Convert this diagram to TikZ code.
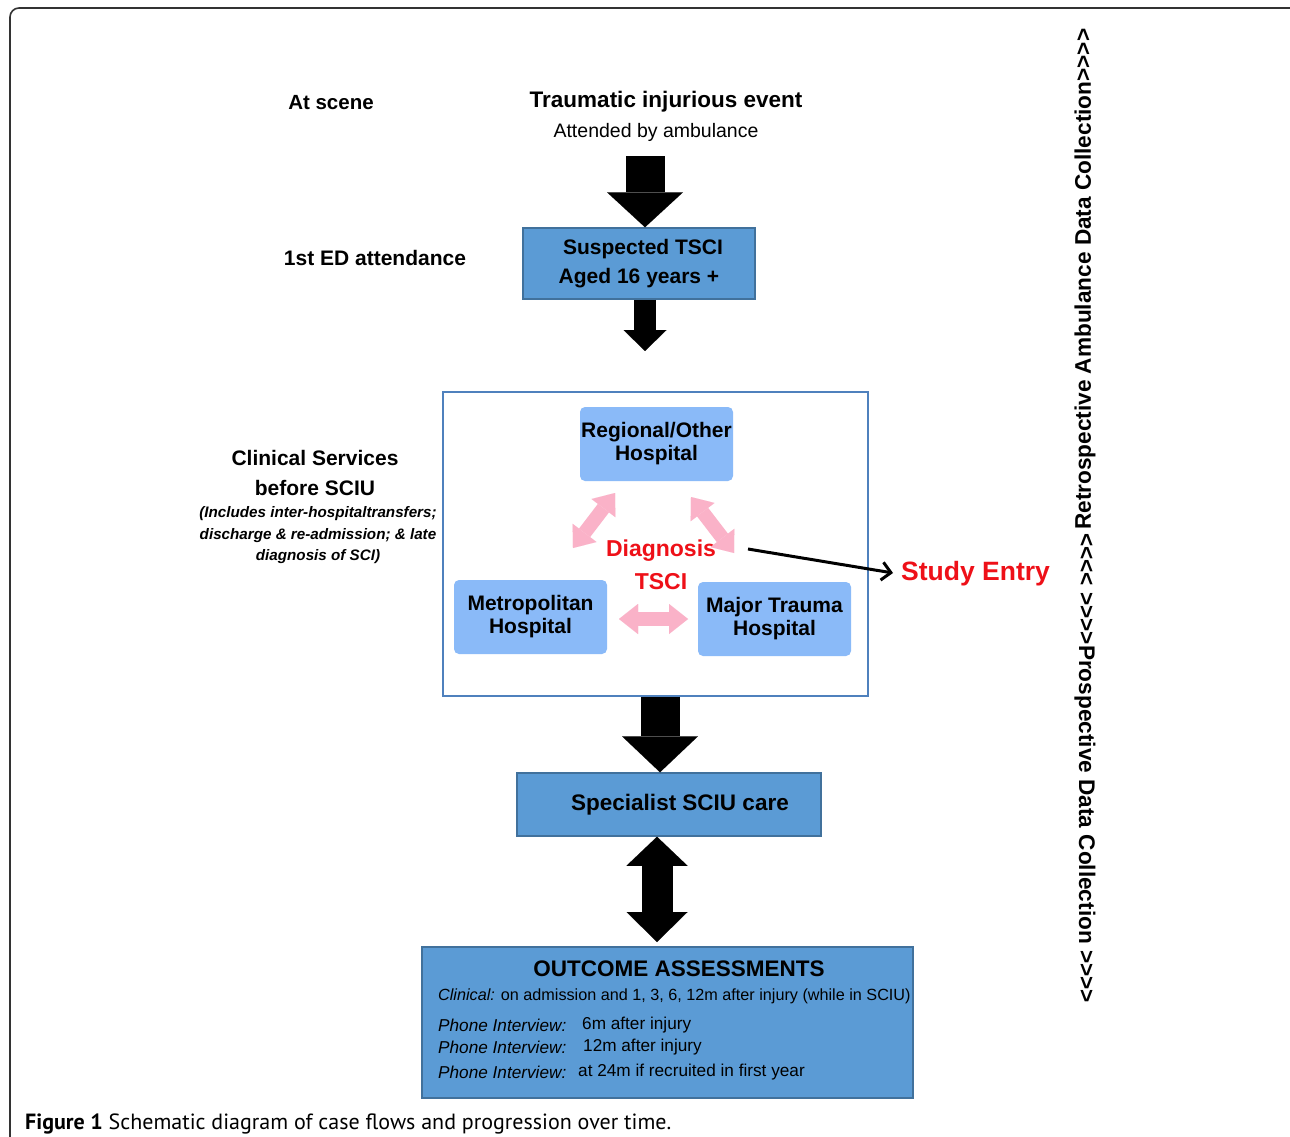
\documentclass[tikz,border=0pt]{standalone}
\usepackage{fontspec}
\setmainfont{Liberation Sans}
\newfontfamily\capfont{PT Sans}
\usetikzlibrary{arrows.meta,calc}
\definecolor{boxblue}{RGB}{91,155,213}
\definecolor{boxedge}{RGB}{65,113,156}
\definecolor{hospblue}{RGB}{138,186,248}
\definecolor{frameblue}{RGB}{79,129,189}
\definecolor{pinkarr}{RGB}{250,178,200}
\definecolor{redtxt}{RGB}{238,16,24}
\newcommand\myfs[2]{\fontsize{#1}{#2}\selectfont}
\newcommand\gtfour{>{}>{}>{}>}
\newcommand\ltfour{<{}<{}<{}<}
\tikzset{
  bluebox/.style={draw=boxedge, line width=1.5pt, fill=boxblue, inner sep=0pt, align=center},
  hosp/.style={fill=hospblue, rounded corners=5pt, minimum width=153pt, minimum height=74pt, inner sep=0pt, align=center, font=\myfs{21}{23}\bfseries},
  lbl/.style={inner sep=0pt, align=center},
  bigarrow/.style={line width=#1, draw=black},
  pinkarrow/.style={draw=pinkarr, line width=14pt, {Triangle[width=30pt,length=19pt,line width=0.01pt]}-{Triangle[width=30pt,length=19pt,line width=0.01pt]}},
}
\begin{document}
\begin{tikzpicture}[x=1pt,y=-1pt]
\useasboundingbox (0,0) rectangle (1290,1137);
% outer frame
\draw[line width=1.6pt, color=black!80, rounded corners=9pt] (10,1160) -- (10,8) -- (1300,8);

% top labels
\node[lbl, font=\myfs{20.5}{24}\bfseries] (scene) at (331,103) {At scene};
\node[lbl, font=\myfs{22.5}{26}\bfseries] (event) at (666,102) {Traumatic injurious event};
\node[lbl, font=\myfs{19.5}{24}] (amb) at (656,132) {Attended by ambulance};
\node[lbl, font=\myfs{21}{24}\bfseries] (ed) at (375,258) {1st ED attendance};

% suspected box
\node[bluebox, minimum width=232pt, minimum height=71pt, font=\myfs{21}{29}\bfseries] (susp) at (639,263.5) {\hspace*{8pt}Suspected TSCI\\Aged 16 years +};

% arrow 1
\coordinate (a1) at (645,156);
\draw[bigarrow=39pt, -{Triangle[width=76pt,length=35pt,line width=0.01pt]}] (a1) -- (a1 |- susp.north);
% arrow 2
\coordinate (a2) at (645,351);
\draw[bigarrow=22pt, -{Triangle[width=43pt,length=21pt,line width=0.01pt]}] (a2 |- susp.south) -- (a2);

% clinical services text
\node[lbl, font=\myfs{21}{30}\bfseries] (cs) at (315,473) {Clinical Services\\before SCIU};
\node[lbl, font=\myfs{15.2}{21.5}\bfseries\itshape] (csnote) at (318,535.5) {(Includes inter-hospitaltransfers;\\discharge \& re-admission; \& late\\diagnosis of SCI)};

% frame box
\node[draw=frameblue, line width=2pt, fill=white, minimum width=425pt, minimum height=304pt, inner sep=0pt] (frame) at (655.5,543.5) {};

% hospitals
\node[hosp] (reg) at (656.5,444) {Regional/Other\\Hospital};
\node[hosp] (met) at (530.5,617) {Metropolitan\\Hospital};
\node[hosp] (maj) at (774.5,619) {Major Trauma\\Hospital};

\node[lbl, font=\myfs{23}{33}\bfseries, text=redtxt] (diag) at (661,564.5) {Diagnosis\\TSCI};

% pink arrows
\coordinate (p1a) at (573,548); \coordinate (p1b) at (615,493);
\coordinate (p2a) at (691,497); \coordinate (p2b) at (734,553);
\coordinate (p3a) at (619,619); \coordinate (p3b) at (688,619);
\draw[pinkarrow] (p1a) -- (p1b);
\draw[pinkarrow] (p2a) -- (p2b);
\draw[pinkarrow] (p3a) -- (p3b);

% study entry
\node[lbl, anchor=west, font=\myfs{26.5}{30}\bfseries, text=redtxt] (study) at (901,574) {Study Entry};
\coordinate (se) at (748,549);
\draw[line width=3pt, -{Straight Barb[length=9pt,width=18pt,line width=3pt]}] (se) -- ($(study.west)+(-8,-1)$);

% SCIU
\node[bluebox, minimum width=304pt, minimum height=63pt, font=\myfs{22.5}{26}\bfseries] (sciu) at (669,804.5) {\hspace*{22pt}Specialist SCIU care};
\coordinate (a3) at (660,695);
\draw[bigarrow=39pt, -{Triangle[width=76pt,length=36pt,line width=0.01pt]}] (a3 |- frame.south) -- (a3 |- sciu.north);

% outcome
\node[bluebox, minimum width=491pt, minimum height=151pt] (out) at (667.5,1022.5) {};
\coordinate (a4) at (657,942);
\draw[bigarrow=31pt, {Triangle[width=61pt,length=29pt,line width=0.01pt]}-{Triangle[width=61pt,length=30pt,line width=0.01pt]}] (a4 |- sciu.south) -- (a4);

\node[lbl, font=\myfs{22.5}{26}\bfseries] (outt) at (679,969) {OUTCOME ASSESSMENTS};
\node[lbl, anchor=west, font=\myfs{16.2}{20}] (o1) at (438,996) {\textit{Clinical:} on admission and 1, 3, 6, 12m after injury (while in SCIU)};
\node[lbl, anchor=west, font=\myfs{17.2}{20}\itshape] (o2) at (438,1025) {Phone Interview:};
\node[lbl, anchor=west, font=\myfs{17.2}{20}] (o2b) at (582,1025) {6m after injury};
\node[lbl, anchor=west, font=\myfs{17.2}{20}\itshape] (o3) at (438,1047) {Phone Interview:};
\node[lbl, anchor=west, font=\myfs{17.2}{20}] (o3b) at (583,1047) {12m after injury};
\node[lbl, anchor=west, font=\myfs{17.2}{20}\itshape] (o4) at (438,1072) {Phone Interview:};
\node[lbl, anchor=west, font=\myfs{17.2}{20}] (o4b) at (578,1072) {at 24m if recruited in first year};

% vertical texts
\node[lbl, rotate=90, anchor=west, font=\myfs{22.6}{26}\bfseries] (retro) at (1085,530) {Retrospective Ambulance Data Collection\gtfour};
\node[lbl, rotate=-90, anchor=west, font=\myfs{22.6}{26}\bfseries] (prosp) at (1085,533) {\ltfour{} \gtfour{}Prospective Data Collection \gtfour};

% caption
\node[lbl, anchor=west, font=\capfont\myfs{22}{26}] (cap) at (25,1124) {\textbf{Figure 1} Schematic diagram of case flows and progression over time.};
\end{tikzpicture}
\end{document}
